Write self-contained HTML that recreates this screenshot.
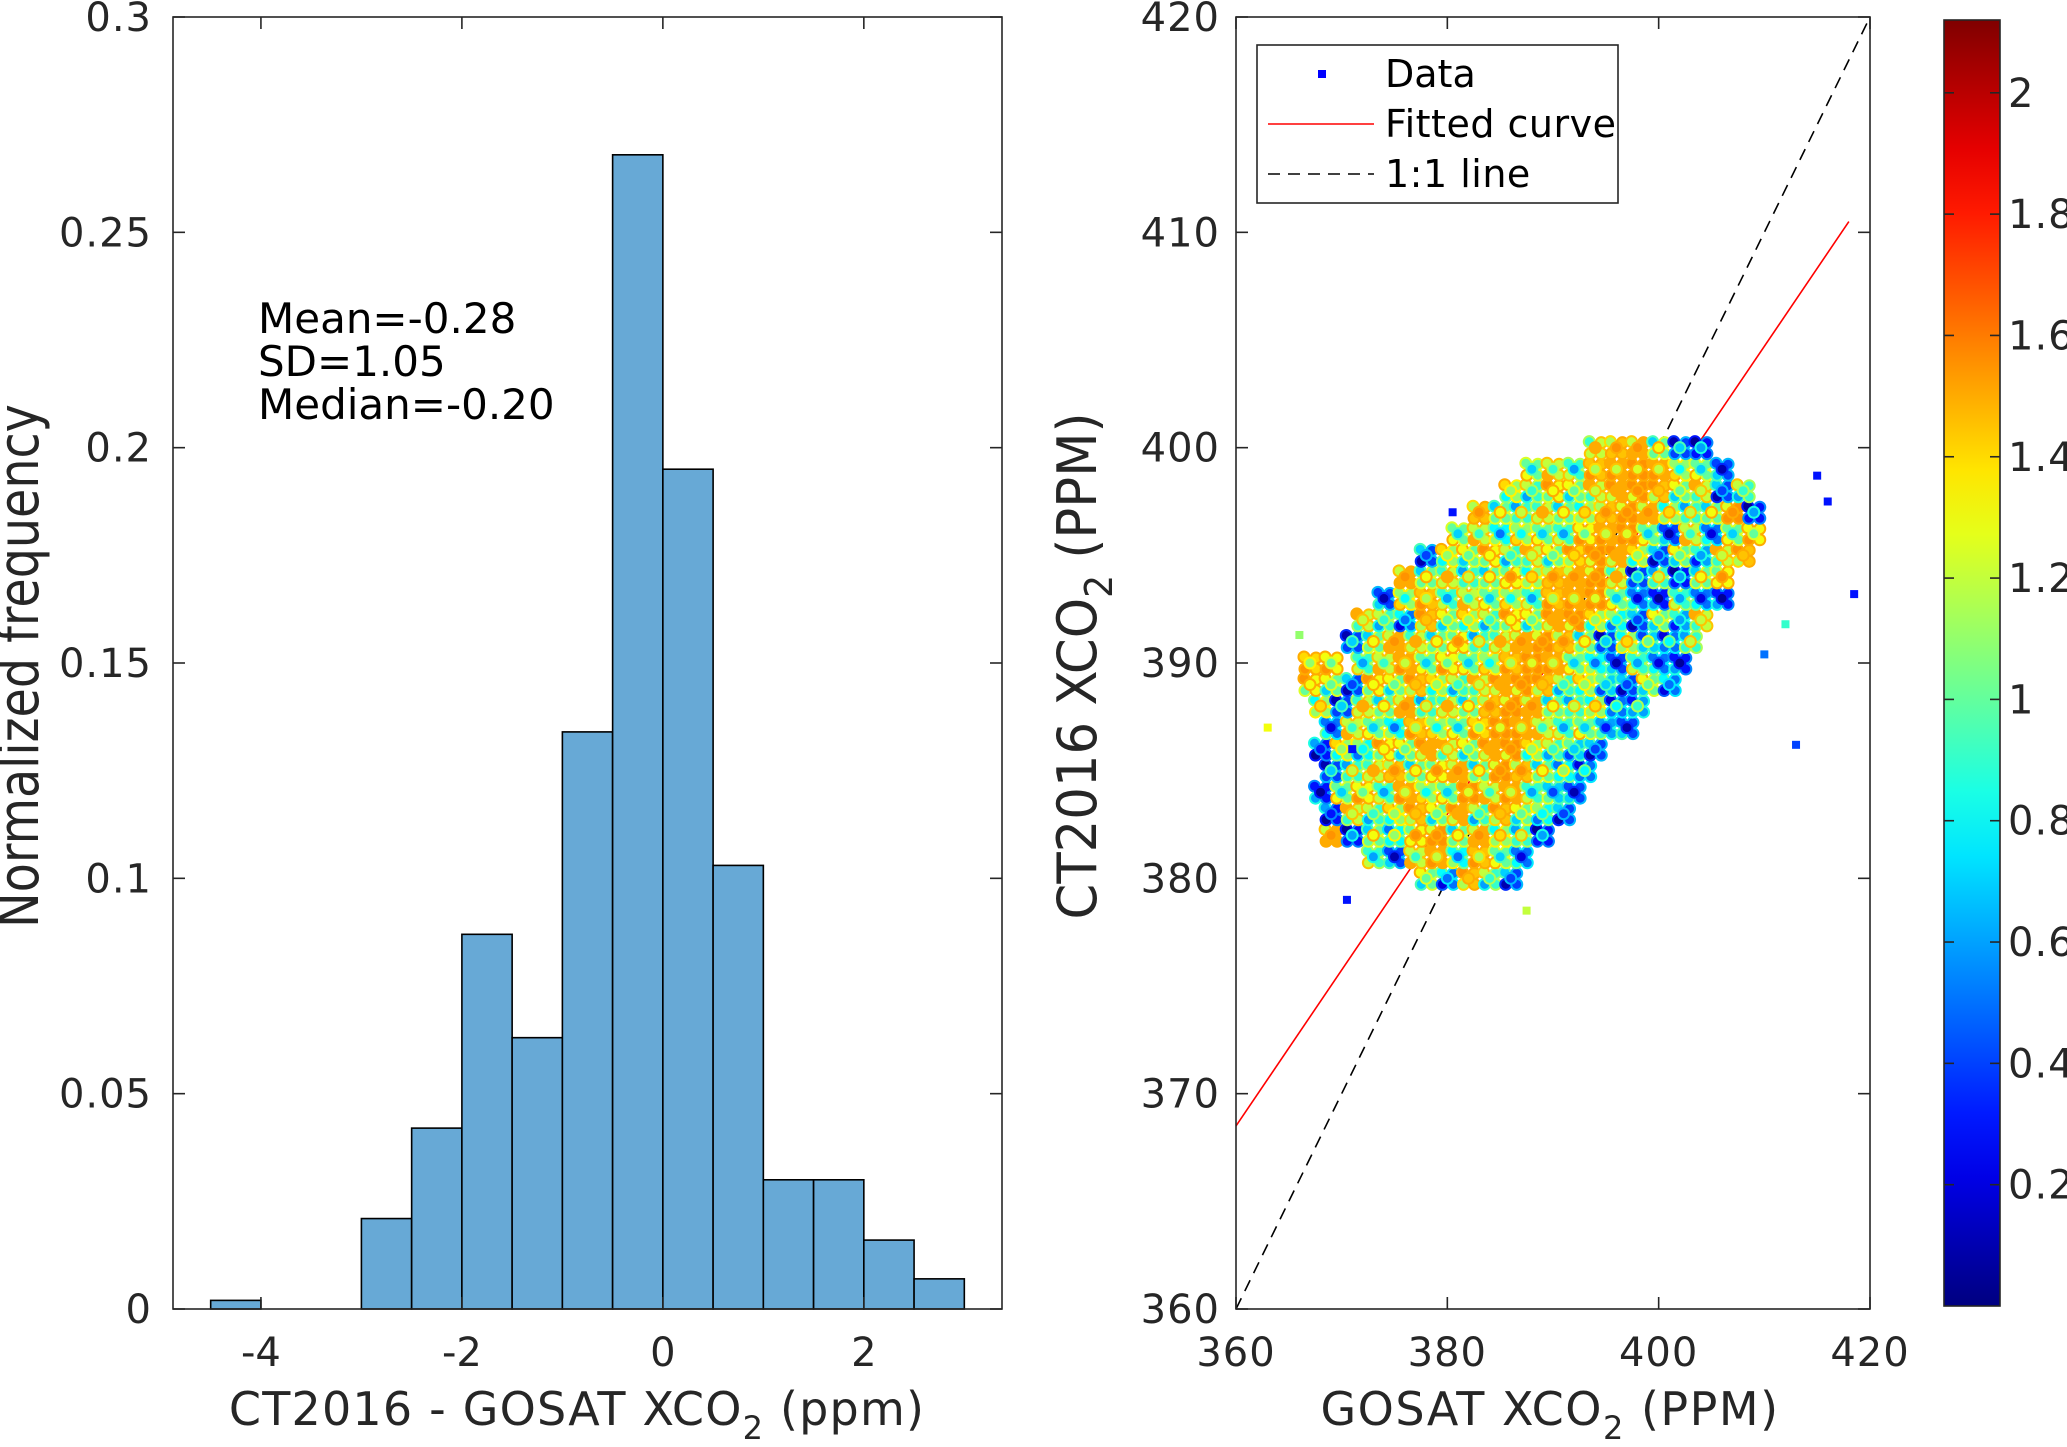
<!DOCTYPE html>
<html><head><meta charset="utf-8"><style>
html,body{margin:0;padding:0;background:#fff;}
svg{display:block;font-family:"DejaVu Sans","Liberation Sans",sans-serif;}
</style></head><body>
<svg id="fig" width="2067" height="1447" viewBox="0 0 2067 1447" xmlns="http://www.w3.org/2000/svg">
<g id="hist"></g>
<g id="scat"></g>
<g id="cbar"></g>
</svg>
<script>
// ---- Histogram data ----
const binEdgesStart = [-4.5,-4,-3.5,-3,-2.5,-2,-1.5,-1,-0.5,0,0.5,1,1.5,2,2.5];
const binFreq = [0.002,0,0,0.021,0.042,0.087,0.063,0.134,0.268,0.195,0.103,0.030,0.030,0.016,0.007];
const histXTicks = [-4,-2,0,2];
const histYTicks = [0,0.05,0.1,0.15,0.2,0.25,0.3];
const histYTickLabels = ["0","0.05","0.1","0.15","0.2","0.25","0.3"];
const statLines = ["Mean=-0.28","SD=1.05","Median=-0.20"];

// ---- Scatter data ----
const scatRowsY = [380,381,382,383,384,385,386,387,388,389,390,391,392,393,394,395,396,397,398,399,400];
const scatRowsX = [
[378,380,382,384,386],
[373,375,377,379,381,383,385,387],
[369,371,373,375,377,379,381,383,385,387,389],
[369,371,373,375,377,379,381,383,385,387,389,391],
[368,370,372,374,376,378,380,382,384,386,388,390,392],
[369,371,373,375,377,379,381,383,385,387,389,391,393],
[368,370,372,374,376,378,380,382,384,386,388,390,392,394],
[369,371,373,375,377,379,381,383,385,387,389,391,393,395,397],
[368,370,372,374,376,378,380,382,384,386,388,390,392,394,396,398],
[367,369,371,373,375,377,379,381,383,385,387,389,391,393,395,397,399,401],
[367,369,372,374,376,378,380,382,384,386,388,390,392,394,396,398,400,402],
[371,373,375,377,379,381,383,385,387,389,391,393,395,397,399,401,403],
[372,374,376,378,380,382,384,386,388,390,392,394,396,398,400,402,404],
[374,376,378,380,382,384,386,388,390,392,394,396,398,400,402,404,406],
[376,378,380,382,384,386,388,390,392,394,396,398,400,402,404,406],
[378,380,382,384,386,388,390,392,394,396,398,400,402,404,406,408],
[381,383,385,387,389,391,393,395,397,399,401,403,405,407,409],
[383,385,387,389,391,393,395,397,399,401,403,405,407,409],
[386,388,390,392,394,396,398,400,402,404,406,408],
[388,390,392,394,396,398,400,402,404,406],
[394,396,398,400,402,404]];
const scatRowsC = [
[1.0,0.5,1.45,0.9,0.4],
[0.9,0.4,1.2,1.5,0.8,1.45,1.0,0.5],
[1.5,0.3,1.0,0.8,1.3,1.55,1.0,1.5,1.1,0.9,0.3],
[0.3,1.2,0.9,1.1,1.45,1.0,1.5,0.9,1.45,1.0,0.8,0.4],
[0.3,1.0,1.3,0.9,1.5,1.1,1.0,1.55,1.2,1.5,0.9,0.7,0.4],
[0.4,0.9,1.2,1.45,1.0,1.3,1.5,1.0,1.55,1.45,1.0,0.8,0.5],
[0.3,1.1,0.8,1.3,1.0,1.5,1.2,1.0,1.5,1.55,1.1,0.9,0.7,0.4],
[0.5,1.2,1.0,0.8,1.45,1.1,1.0,1.4,1.55,1.5,1.2,0.9,1.0,0.6,0.4],
[1.1,0.4,1.2,1.0,1.5,0.9,1.2,1.0,1.45,1.55,1.5,1.0,0.9,1.1,0.5,0.6],
[1.3,1.0,0.4,1.3,1.0,1.45,1.1,0.9,1.2,1.5,1.55,1.45,0.9,1.1,0.7,0.4,1.0,0.5],
[1.4,1.3,0.9,1.2,1.5,1.0,1.3,1.0,1.1,1.45,1.55,1.5,1.0,0.8,0.4,0.9,0.5,0.3],
[0.4,1.0,1.5,1.2,1.0,1.3,0.9,1.2,1.5,1.55,1.45,1.0,0.4,1.1,0.7,0.5,0.9],
[1.2,0.9,0.5,1.45,1.0,1.1,0.9,1.3,1.0,1.5,1.55,1.1,0.8,0.4,1.0,0.6,1.2],
[0.4,1.1,1.45,0.9,1.2,1.0,1.1,0.9,1.45,1.5,1.55,1.0,0.5,0.3,0.9,0.5,0.3],
[1.5,1.0,1.2,0.9,1.0,1.3,1.1,1.45,1.5,1.55,1.2,0.4,0.9,0.3,1.0,1.3],
[0.4,1.1,1.0,1.3,0.9,1.2,1.0,1.4,1.55,1.5,1.1,0.4,1.0,0.6,1.2,1.45],
[1.0,1.2,0.8,1.1,1.0,0.9,1.3,1.5,1.55,1.0,0.4,1.2,0.5,1.0,1.3],
[1.45,1.0,0.9,1.2,1.0,1.1,1.45,1.55,1.5,1.1,0.9,1.0,1.55,0.3],
[1.1,0.9,1.3,1.0,1.2,1.5,1.55,1.45,1.0,1.2,0.4,0.9],
[1.0,1.2,0.9,1.45,1.5,1.55,1.5,1.1,1.0,0.4],
[1.2,1.45,1.5,1.0,0.4,0.3]];
const outlierX = [363,366,413,418.5,416,415,370.5,387.5,380.5,371,412,410];
const outlierY = [387,391.3,386.2,393.2,397.5,398.7,379,378.5,397,386,391.8,390.4];
const outlierC = [1.3,1.1,0.4,0.3,0.3,0.3,0.3,1.2,0.3,0.3,0.9,0.5];
const fitLineX = [360,418];
const fitLineY = [368.5,410.5];
const oneToOneX = [360,420];
const oneToOneY = [360,420];
const scatTicks = [360,370,380,390,400,410,420];
const scatXTicks = [360,380,400,420];
const cbarTicks = [0.2,0.4,0.6,0.8,1,1.2,1.4,1.6,1.8,2];
const cbarTickLabels = ["0.2","0.4","0.6","0.8","1","1.2","1.4","1.6","1.8","2"];

const NS="http://www.w3.org/2000/svg";
function mk(parent,tag,attrs,text){const e=document.createElementNS(NS,tag);for(const k in attrs)e.setAttribute(k,attrs[k]);if(text!==undefined)e.textContent=text;parent.appendChild(e);return e;}
function jet(v){v=Math.max(0,Math.min(1,v));const r=Math.max(0,Math.min(1,1.5-Math.abs(4*v-3)));const g=Math.max(0,Math.min(1,1.5-Math.abs(4*v-2)));const b=Math.max(0,Math.min(1,1.5-Math.abs(4*v-1)));return `rgb(${Math.round(r*255)},${Math.round(g*255)},${Math.round(b*255)})`;}
const TXT="#262626", FS=40;

// ---------- Histogram ----------
const H=document.getElementById('hist');
const hL=173,hR=1002,hT=17,hB=1309;
const hxMin=-4.875,hxMax=3.375,hyMin=0,hyMax=0.3;
const hx=v=>hL+(v-hxMin)/(hxMax-hxMin)*(hR-hL);
const hy=v=>hB-(v-hyMin)/(hyMax-hyMin)*(hB-hT);
binFreq.forEach((f,i)=>{
  const x0=hx(binEdgesStart[i]),x1=hx(binEdgesStart[i]+0.5);
  if(f<=0)return;
  const r=mk(H,'rect',{x:x0,y:hy(f),width:x1-x0,height:hy(0)-hy(f),fill:'#67a9d6',stroke:'#000','stroke-width':1.6});
  
  
});
mk(H,'rect',{x:hL,y:hT,width:hR-hL,height:hB-hT,fill:'none',stroke:'#262626','stroke-width':1.6,});
histYTicks.forEach((t,i)=>{const y=hy(t);
  mk(H,'line',{x1:hL,x2:hL+12,y1:y,y2:y,stroke:'#262626','stroke-width':1.6});
  mk(H,'line',{x1:hR,x2:hR-12,y1:y,y2:y,stroke:'#262626','stroke-width':1.6});
  const tl=mk(H,'text',{x:152,y:y+14,'text-anchor':'end','font-size':FS,fill:TXT,'letter-spacing':1},histYTickLabels[i]);
  
  
});
histXTicks.forEach(t=>{const x=hx(t);
  mk(H,'line',{x1:x,x2:x,y1:hB,y2:hB-12,stroke:'#262626','stroke-width':1.6});
  mk(H,'line',{x1:x,x2:x,y1:hT,y2:hT+12,stroke:'#262626','stroke-width':1.6});
  const tl=mk(H,'text',{x:x,y:1366,'text-anchor':'middle','font-size':FS,fill:TXT},String(t));
  
  
});
statLines.forEach((s,i)=>{
  const t=mk(H,'text',{x:258,y:333+i*43,'font-size':42,fill:'#000'},s);
  
  
});
mk(H,'text',{x:577,y:1425,'text-anchor':'middle','font-size':46,'letter-spacing':1.2,fill:TXT,}).innerHTML='CT2016 - GOSAT XCO<tspan dy="14" font-size="32">2</tspan><tspan dy="-14"> (ppm)</tspan>';
mk(H,'text',{x:0,y:0,'text-anchor':'middle','font-size':56,fill:TXT,transform:'translate(38,666) rotate(-90) scale(0.85,1)',},'Normalized frequency');

// ---------- Scatter ----------
const S=document.getElementById('scat');
const sL=1236,sR=1870,sT=17,sB=1309;
const sx=v=>sL+(v-360)/60*(sR-sL);
const sy=v=>sB-(v-360)/60*(sB-sT);
const clip=mk(S,'clipPath',{id:'sclip'});mk(clip,'rect',{x:sL,y:sT,width:sR-sL,height:sB-sT});
mk(S,'line',{x1:sx(oneToOneX[0]),y1:sy(oneToOneY[0]),x2:sx(oneToOneX[1]),y2:sy(oneToOneY[1]),stroke:'#000','stroke-width':1.6,'stroke-dasharray':'12,8',});
mk(S,'line',{x1:sx(fitLineX[0]),y1:sy(fitLineY[0]),x2:sx(fitLineX[1]),y2:sy(fitLineY[1]),stroke:'#ff0000','stroke-width':1.6,});
const pts=mk(S,'g',{'clip-path':'url(#sclip)',});
const subOff=[[-6,-6],[6,-5],[-5,6],[6,6],[0,0]];
scatRowsY.forEach((y,ri)=>{
  scatRowsX[ri].forEach((x,ci)=>{
    const v=scatRowsC[ri][ci];
    const g=mk(pts,'g',{});
    
    
    subOff.forEach((o,k)=>{
      const vv=k%2?v:Math.max(0.05,Math.min(1.55,v-0.3*((k+ri)%3-1)));
      mk(g,'circle',{cx:sx(x)+o[0],cy:sy(y)+o[1],r:5.5,fill:jet(vv/2.12),stroke:jet(Math.min(1.5,vv+0.25)/2.12),'stroke-width':2});
    });
  });
});
outlierX.forEach((x,i)=>{
  const p=mk(pts,'rect',{x:sx(x)-4,y:sy(outlierY[i])-4,width:8,height:8,fill:jet(outlierC[i]/2.12)});
  
  
});
mk(S,'rect',{x:sL,y:sT,width:sR-sL,height:sB-sT,fill:'none',stroke:'#262626','stroke-width':1.6,});
scatTicks.forEach(t=>{const y=sy(t);
  mk(S,'line',{x1:sL,x2:sL+12,y1:y,y2:y,stroke:'#262626','stroke-width':1.6});
  mk(S,'line',{x1:sR,x2:sR-12,y1:y,y2:y,stroke:'#262626','stroke-width':1.6});
  const tl=mk(S,'text',{x:1220,y:y+14,'text-anchor':'end','font-size':FS,fill:TXT,'letter-spacing':1},String(t));
  
  
});
scatXTicks.forEach(t=>{const x=sx(t);
  mk(S,'line',{x1:x,x2:x,y1:sB,y2:sB-12,stroke:'#262626','stroke-width':1.6});
  mk(S,'line',{x1:x,x2:x,y1:sT,y2:sT+12,stroke:'#262626','stroke-width':1.6});
  const tl=mk(S,'text',{x:x,y:1366,'text-anchor':'middle','font-size':FS,fill:TXT,'letter-spacing':1},String(t));
  
  
});
mk(S,'text',{x:1550,y:1425,'text-anchor':'middle','font-size':46,'letter-spacing':1.5,fill:TXT,'xml:space':'preserve',}).innerHTML='GOSAT XCO<tspan dy="14" font-size="32">2</tspan><tspan dy="-14">   (PPM)</tspan>';
mk(S,'text',{x:0,y:0,'text-anchor':'middle','font-size':54,fill:TXT,'xml:space':'preserve',transform:'translate(1096,666) rotate(-90) scale(0.95,1)',}).innerHTML='CT2016 XCO<tspan dy="16" font-size="38">2</tspan><tspan dy="-16">   (PPM)</tspan>';
// legend
const lg=mk(S,'g',{});
mk(lg,'rect',{x:1257,y:45,width:361,height:158,fill:'#fff',stroke:'#262626','stroke-width':1.6});
mk(lg,'rect',{x:1318,y:70,width:8,height:8,fill:'#0000ff',});
mk(lg,'text',{x:1385,y:87,'font-size':38,fill:'#000',},'Data');
mk(lg,'line',{x1:1268,x2:1374,y1:124,y2:124,stroke:'#ff0000','stroke-width':1.6});
mk(lg,'text',{x:1385,y:137,'font-size':38,'letter-spacing':0.5,fill:'#000',},'Fitted curve');
mk(lg,'line',{x1:1268,x2:1374,y1:174,y2:174,stroke:'#000','stroke-width':1.6,'stroke-dasharray':'12,8'});
mk(lg,'text',{x:1385,y:187,'font-size':38,'letter-spacing':0.5,fill:'#000',},'1:1 line');

// ---------- Colorbar ----------
const C=document.getElementById('cbar');
const cL=1944,cR=2000,cT=20,cB=1306,cMax=2.12;
const cy=v=>cB-v/cMax*(cB-cT);
const defs=mk(C,'defs',{});
const grad=mk(defs,'linearGradient',{id:'jetg',x1:0,y1:1,x2:0,y2:0});
for(let i=0;i<=20;i++){mk(grad,'stop',{offset:i/20,'stop-color':jet(i/20)});}
mk(C,'rect',{x:cL,y:cT,width:cR-cL,height:cB-cT,fill:'url(#jetg)',stroke:'#262626','stroke-width':1.6,});
cbarTicks.forEach((t,i)=>{const y=cy(t);
  mk(C,'line',{x1:cR,x2:cR-10,y1:y,y2:y,stroke:'#262626','stroke-width':1.6});
  mk(C,'line',{x1:cL,x2:cL+10,y1:y,y2:y,stroke:'#262626','stroke-width':1.6});
  const tl=mk(C,'text',{x:2008,y:y+14,'font-size':FS,fill:TXT,'letter-spacing':1},cbarTickLabels[i]);
  
  
});
</script>
</body></html>
